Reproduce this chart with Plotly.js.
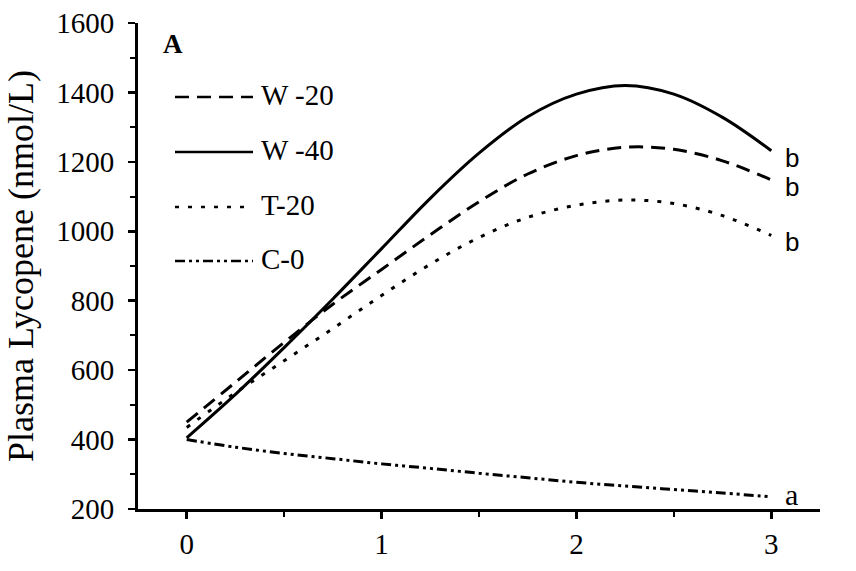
<!DOCTYPE html>
<html>
<head>
<meta charset="utf-8">
<script src="https://cdn.plot.ly/plotly-3.0.1.min.js"></script>
<style>
  body { margin: 0; background: #fff; }
  #plotArea { width: 856px; height: 571px; }
</style>
</head>
<body>
<div id="plotArea"></div>
<script>
// values
var days = [0, 0.25, 0.5, 0.75, 1, 1.25, 1.5, 1.75, 2, 2.25, 2.5, 2.75, 3];
var w20 = [450, 565, 680, 790, 890, 990, 1085, 1165, 1218, 1242, 1236, 1203, 1148];
var w40 = [405, 530, 665, 805, 950, 1095, 1225, 1330, 1395, 1420, 1395, 1328, 1232];
var t20 = [435, 535, 627, 720, 815, 905, 982, 1040, 1075, 1090, 1080, 1045, 988];
var c0 = [400, 378, 360, 345, 330, 317, 303, 290, 277, 266, 256, 246, 235];

var names = ["W -20", "W -40", "T-20", "C-0"];
var letters = ["b", "b", "b", "a"];
var dashes = ["14px,8px", "solid", "4px,9px", "10px,4px,3px,4px,3px,4px"];
var series = [w20, w40, t20, c0];

var serif = "Liberation Serif, Times New Roman, serif";
var sans = "Liberation Sans, Arial, sans-serif";

// plot box in pixels, used to put legend bits in paper coords
var L = 138, R = 820, T = 23, B = 509;
function px(x) { return (x - L) / (R - L); }
function py(y) { return (B - y) / (B - T); }

var data = [];
for (var i = 0; i < series.length; i++) {
    data.push({
        x: days,
        y: series[i],
        mode: "lines",
        type: "scatter",
        name: names[i],
        line: {color: "#000", width: 3, dash: dashes[i], shape: "spline", smoothing: 1},
        hoverinfo: "skip"
    });
}

var shapes = [];
var annotations = [];
var legendY = [97, 152, 207, 261];
for (var i = 0; i < names.length; i++) {
    shapes.push({
        type: "line", xref: "paper", yref: "paper",
        x0: px(175), x1: px(253), y0: py(legendY[i]), y1: py(legendY[i]),
        line: {color: "#000", width: 2.5, dash: dashes[i]}
    });
    annotations.push({
        xref: "paper", yref: "paper", x: px(259), y: py(legendY[i] - 2),
        xanchor: "left", yanchor: "middle", showarrow: false,
        text: names[i], font: {family: serif, size: 29, color: "#000"}
    });
    var last = series[i][series[i].length - 1];
    annotations.push({
        x: days[days.length - 1], y: last, xanchor: "left", yanchor: "middle",
        xshift: 12, yshift: i == 3 ? 2 : -7, showarrow: false,
        text: letters[i],
        font: {family: i == 3 ? serif : sans, size: i == 3 ? 30 : 26, color: "#000"}
    });
}
annotations.push({
    xref: "paper", yref: "paper", x: px(161), y: py(44),
    xanchor: "left", yanchor: "middle", showarrow: false,
    text: "<b>A</b>", font: {family: serif, size: 27, color: "#000"}
});

var layout = {
    width: 856,
    height: 571,
    margin: {l: L, r: 856 - R, t: T, b: 571 - B},
    paper_bgcolor: "#fff",
    plot_bgcolor: "#fff",
    showlegend: false,
    xaxis: {
        range: [-0.25, 3.25],
        tickvals: [0, 1, 2, 3],
        ticks: "outside", ticklen: 7, tickwidth: 2.5, tickcolor: "#000",
        minor: {dtick: 0.5, tick0: 0, ticks: "outside", ticklen: 5, tickwidth: 2, tickcolor: "#000", showgrid: false},
        showline: true, linecolor: "#000", linewidth: 3,
        showgrid: false, zeroline: false,
        tickfont: {family: serif, size: 29, color: "#000"},
        ticklabelstandoff: 0
    },
    yaxis: {
        range: [200, 1600],
        dtick: 200,
        ticks: "outside", ticklen: 7, tickwidth: 2.5, tickcolor: "#000",
        minor: {dtick: 100, ticks: "outside", ticklen: 5, tickwidth: 2, tickcolor: "#000", showgrid: false},
        showline: true, linecolor: "#000", linewidth: 3,
        showgrid: false, zeroline: false,
        tickfont: {family: serif, size: 29, color: "#000"},
        ticklabelstandoff: 8,
        title: {text: "Plasma Lycopene (nmol/L)", font: {family: serif, size: 36, color: "#000"}, standoff: 12}
    },
    shapes: shapes,
    annotations: annotations
};

Plotly.newPlot("plotArea", data, layout, {displayModeBar: false, staticPlot: true});
</script>
</body>
</html>
